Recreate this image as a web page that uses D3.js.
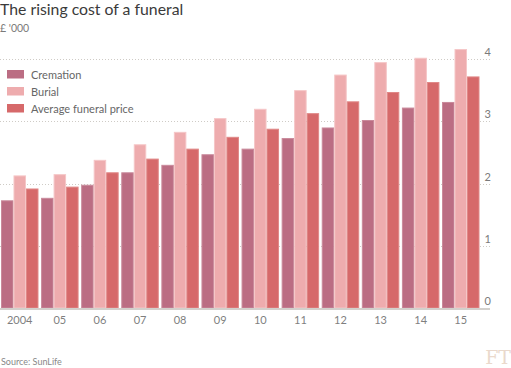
<!DOCTYPE html>
<html>
<head>
<meta charset="utf-8">
<script src="https://cdn.jsdelivr.net/npm/d3@7"></script>
<style>
  body { margin: 0; background: #fff; }
  svg { display: block; font-family: Lato, "Open Sans", sans-serif; }
</style>
</head>
<body>
<div id="chart"></div>
<script>
const years = ['2004', '05', '06', '07', '08', '09', '10', '11', '12', '13', '14', '15'];
const seriesNames = ['Cremation', 'Burial', 'Average funeral price'];
const cremation = [1.73, 1.77, 1.98, 2.18, 2.30, 2.47, 2.56, 2.73, 2.90, 3.02, 3.22, 3.31];
const burial = [2.13, 2.15, 2.38, 2.63, 2.83, 3.05, 3.20, 3.50, 3.75, 3.95, 4.02, 4.16];
const average = [1.92, 1.95, 2.18, 2.40, 2.56, 2.75, 2.88, 3.13, 3.32, 3.47, 3.63, 3.72];
const yTicks = [0, 1, 2, 3, 4];
const colors = ['#bb6d83', '#eeacae', '#d6696a'];
const strokes = ['#c98a9b', '#f5c6c7', '#e08887'];

const width = 511, height = 368;
const svg = d3.select('#chart').append('svg').attr('width', width).attr('height', height);

const rows = years.map((yr, i) => ({ year: yr, values: [cremation[i], burial[i], average[i]] }));

const x0 = d3.scaleBand().domain(years).range([1, 479.5]).paddingInner(0.065).paddingOuter(0);
const x1 = d3.scaleBand().domain(d3.range(3)).range([0, x0.bandwidth()]);
const y = d3.scaleLinear().domain([0, 4]).range([308, 59]);

// gridlines
svg.append('g')
  .selectAll('line')
  .data(yTicks.filter(d => d > 0))
  .join('line')
  .attr('x1', 0).attr('x2', 490)
  .attr('y1', d => Math.round(y(d)) + 0.5).attr('y2', d => Math.round(y(d)) + 0.5)
  .attr('stroke', '#cfcbc6')
  .attr('stroke-dasharray', '1,2');

// y labels
svg.append('g')
  .selectAll('text')
  .data(yTicks)
  .join('text')
  .attr('x', 491)
  .attr('y', d => y(d) - 3)
  .attr('text-anchor', 'end')
  .attr('font-size', 11)
  .attr('fill', '#7a7a7a')
  .text(d => d);

// bars
const groups = svg.append('g')
  .selectAll('g')
  .data(rows)
  .join('g')
  .attr('transform', d => `translate(${x0(d.year)},0)`);

groups.selectAll('rect')
  .data(d => d.values.map((v, k) => ({ k, v })))
  .join('rect')
  .attr('x', d => x1(d.k) + 0.5)
  .attr('width', x1.bandwidth() - 1)
  .attr('y', d => y(d.v) + 0.5)
  .attr('height', d => y(0) - y(d.v) - 0.5)
  .attr('fill', d => colors[d.k])
  .attr('stroke', d => strokes[d.k])
  .attr('stroke-width', 1);

// baseline
svg.append('line')
  .attr('x1', 0).attr('x2', 490)
  .attr('y1', y(0) + 1).attr('y2', y(0) + 1)
  .attr('stroke', '#d3d0cc')
  .attr('stroke-width', 2);

// x labels
svg.append('g')
  .selectAll('text')
  .data(years)
  .join('text')
  .attr('x', d => x0(d) + x0.bandwidth() / 2)
  .attr('y', 324)
  .attr('text-anchor', 'middle')
  .attr('font-size', 11)
  .attr('fill', '#7f7f7f')
  .text(d => d);

// title
svg.append('text')
  .attr('x', 0).attr('y', 15)
  .attr('font-size', 15.8)
  .attr('fill', '#3a3a3a')
  .text('The rising cost of a funeral');

svg.append('text')
  .attr('x', 0).attr('y', 32)
  .attr('font-size', 10.5)
  .attr('fill', '#7a7a7a')
  .text("£ '000");

// legend
const legend = svg.append('g')
  .selectAll('g')
  .data(seriesNames)
  .join('g')
  .attr('transform', (d, i) => `translate(7,${70 + i * 17})`);

legend.append('rect')
  .attr('width', 17).attr('height', 8.5)
  .attr('fill', (d, i) => colors[i]);

legend.append('text')
  .attr('x', 24).attr('y', 8.5)
  .attr('font-size', 11)
  .attr('fill', '#666')
  .text(d => d);

// source
svg.append('text')
  .attr('x', 1).attr('y', 365)
  .attr('font-size', 9)
  .attr('fill', '#888')
  .text('Source: SunLife');

// FT logo
svg.append('text')
  .attr('x', 511).attr('y', 364)
  .attr('text-anchor', 'end')
  .attr('font-family', '"DejaVu Serif", "Liberation Serif", serif')
  .attr('font-size', 19)
  .attr('fill', '#ead9cc')
  .text('FT');
</script>
</body>
</html>
